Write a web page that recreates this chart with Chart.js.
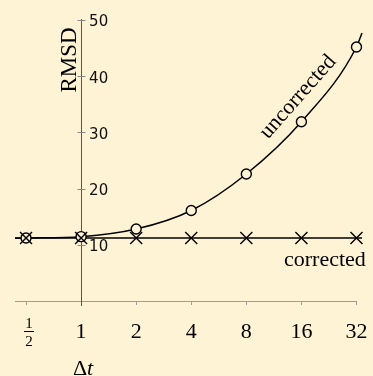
<!DOCTYPE html>
<html>
<head>
<meta charset="utf-8">
<script src="https://cdn.jsdelivr.net/npm/chart.js@4.4.1/dist/chart.umd.min.js"></script>
<style>
  html, body { margin: 0; padding: 0; background: #fff3d6; }
  canvas { display: block; }
</style>
</head>
<body>
<canvas id="rmsdChart" width="373" height="376"></canvas>
<script>
// time steps and RMSD
const dtLabels = ["1/2", "1", "2", "4", "8", "16", "32"];
const dtValues = [0.5, 1, 2, 4, 8, 16, 32];
const uncorrected = [11.2, 11.45, 12.8, 16.1, 22.6, 31.9, 45.2];
const corrected = [11.2, 11.2, 11.2, 11.2, 11.2, 11.2, 11.2];
// where the fitted curves start and stop (log2 of dt)
const fitEnds = [-1.2, 5.1];
const uncorrectedEnds = [11.15, 47.7];
const correctedEnds = [11.2, 11.2];
const yTicks = [10, 20, 30, 40, 50];

const BG = "#fff3d6";
const AXIS_GREY = "#a19d94";
const SERIF = "'Liberation Serif', 'Times New Roman', serif";
const SANS = "'DejaVu Sans', Verdana, sans-serif";

const logX = dtValues.map((d) => Math.log2(d));
const toPoints = (ys) => logX.map((x, i) => ({ x: x, y: ys[i] }));
const withEnds = (ys, ends) => [
  { x: fitEnds[0], y: ends[0] },
  ...toPoints(ys),
  { x: fitEnds[1], y: ends[1] },
];

// y axis sits on dt = 1, so draw it by hand from the y scale
const decor = {
  id: "decor",
  beforeDatasetsDraw(chart) {
    const { ctx, scales: { x, y } } = chart;
    const x0 = Math.round(x.getPixelForValue(0)) + 0.5;
    ctx.save();
    ctx.lineWidth = 1;

    // x axis line stops at the last tick
    ctx.strokeStyle = AXIS_GREY;
    const yb = Math.round(x.top) + 0.5;
    ctx.beginPath();
    ctx.moveTo(x.left, yb);
    ctx.lineTo(x.getPixelForValue(logX[logX.length - 1]) + 0.5, yb);
    ctx.stroke();

    ctx.strokeStyle = "#555";
    ctx.beginPath();
    ctx.moveTo(x0, y.getPixelForValue(50) - 1);
    ctx.lineTo(x0, y.bottom + 5);
    ctx.stroke();
    ctx.strokeStyle = "#8a8680";
    yTicks.forEach((v) => {
      const py = Math.round(y.getPixelForValue(v)) + 0.5;
      ctx.beginPath();
      ctx.moveTo(x0 - 4, py);
      ctx.lineTo(x0 + 4, py);
      ctx.stroke();
    });
    ctx.restore();
  },
  afterDraw(chart) {
    const { ctx, scales: { x, y } } = chart;
    const x0 = x.getPixelForValue(0);
    ctx.save();
    ctx.fillStyle = "#111";

    // y tick labels, right of the axis
    ctx.font = "15px " + SANS;
    ctx.textAlign = "left";
    ctx.textBaseline = "middle";
    yTicks.forEach((v) => {
      ctx.fillText(String(v), x0 + 8, y.getPixelForValue(v) + 2.5);
    });

    // RMSD title
    ctx.save();
    ctx.translate(x0 - 5, 60);
    ctx.rotate(-Math.PI / 2);
    ctx.font = "23px " + SERIF;
    ctx.textAlign = "center";
    ctx.textBaseline = "alphabetic";
    ctx.fillStyle = "#000";
    ctx.fillText("RMSD", 0, 0);
    ctx.restore();

    // the 1/2 tick label as a stacked fraction
    const [num, den] = dtLabels[0].split("/");
    const fx = x.getPixelForValue(logX[0]) + 3;
    ctx.fillStyle = "#000";
    ctx.font = "15px " + SERIF;
    ctx.textAlign = "center";
    ctx.textBaseline = "alphabetic";
    ctx.fillText(num, fx, 328);
    ctx.fillText(den, fx, 346);
    ctx.strokeStyle = "#000";
    ctx.lineWidth = 1;
    ctx.beginPath();
    ctx.moveTo(fx - 5, 331.5);
    ctx.lineTo(fx + 5, 331.5);
    ctx.stroke();

    // Δt, upright delta and italic t
    ctx.textAlign = "left";
    ctx.font = "22px " + SERIF;
    const dW = ctx.measureText("Δ").width;
    ctx.font = "italic 22px " + SERIF;
    const tW = ctx.measureText("t").width;
    const sx = x0 + 2 - (dW + tW) / 2;
    ctx.font = "22px " + SERIF;
    ctx.fillText("Δ", sx, 375);
    ctx.font = "italic 22px " + SERIF;
    ctx.fillText("t", sx + dW, 375);

    // series names
    ctx.font = "22px " + SERIF;
    ctx.fillText("corrected", 284, 266);
    ctx.save();
    ctx.translate(298, 97);
    ctx.rotate(-48.5 * Math.PI / 180);
    ctx.textAlign = "center";
    ctx.textBaseline = "middle";
    ctx.fillText("uncorrected", 0, 0);
    ctx.restore();

    ctx.restore();
  },
};

new Chart(document.getElementById("rmsdChart"), {
  type: "scatter",
  data: {
    datasets: [
      {
        label: "corrected points",
        data: toPoints(corrected),
        showLine: false,
        pointStyle: "crossRot",
        pointRadius: 8.5,
        borderWidth: 1.4,
        borderColor: "#000",
        clip: false,
        order: 0,
      },
      {
        label: "uncorrected points",
        data: toPoints(uncorrected),
        showLine: false,
        pointStyle: "circle",
        pointRadius: 5,
        borderWidth: 1.4,
        borderColor: "#000",
        backgroundColor: BG,
        clip: false,
        order: 1,
      },
      {
        label: "uncorrected fit",
        data: withEnds(uncorrected, uncorrectedEnds),
        showLine: true,
        cubicInterpolationMode: "monotone",
        pointRadius: 0,
        borderWidth: 1.5,
        borderColor: "#000",
        clip: false,
        order: 2,
      },
      {
        label: "corrected fit",
        data: withEnds(corrected, correctedEnds),
        showLine: true,
        pointRadius: 0,
        borderWidth: 1.5,
        borderColor: "#000",
        clip: false,
        order: 3,
      },
    ],
  },
  options: {
    responsive: false,
    animation: false,
    events: [],
    layout: { padding: { left: 15, right: 7.34, top: 20, bottom: 0 } },
    plugins: { legend: { display: false }, tooltip: { enabled: false } },
    scales: {
      x: {
        type: "linear",
        position: "bottom",
        min: -1.2,
        max: 5.12,
        afterBuildTicks: (scale) => {
          scale.ticks = logX.map((v) => ({ value: v }));
        },
        afterFit: (scale) => {
          scale.height = 75;
          scale.paddingLeft = 0;
          scale.paddingRight = 0;
        },
        grid: { drawOnChartArea: false, drawTicks: true, tickLength: 4, color: AXIS_GREY },
        border: { display: false },
        ticks: {
          autoSkip: false,
          maxRotation: 0,
          padding: 16.5,
          color: "#000",
          font: { family: SERIF, size: 22, lineHeight: 1 },
          callback: (value, index) => (index === 0 ? "" : dtLabels[index]),
        },
      },
      y: {
        type: "linear",
        display: false,
        min: 0,
        max: 50,
      },
    },
  },
  plugins: [decor],
});
</script>
</body>
</html>
